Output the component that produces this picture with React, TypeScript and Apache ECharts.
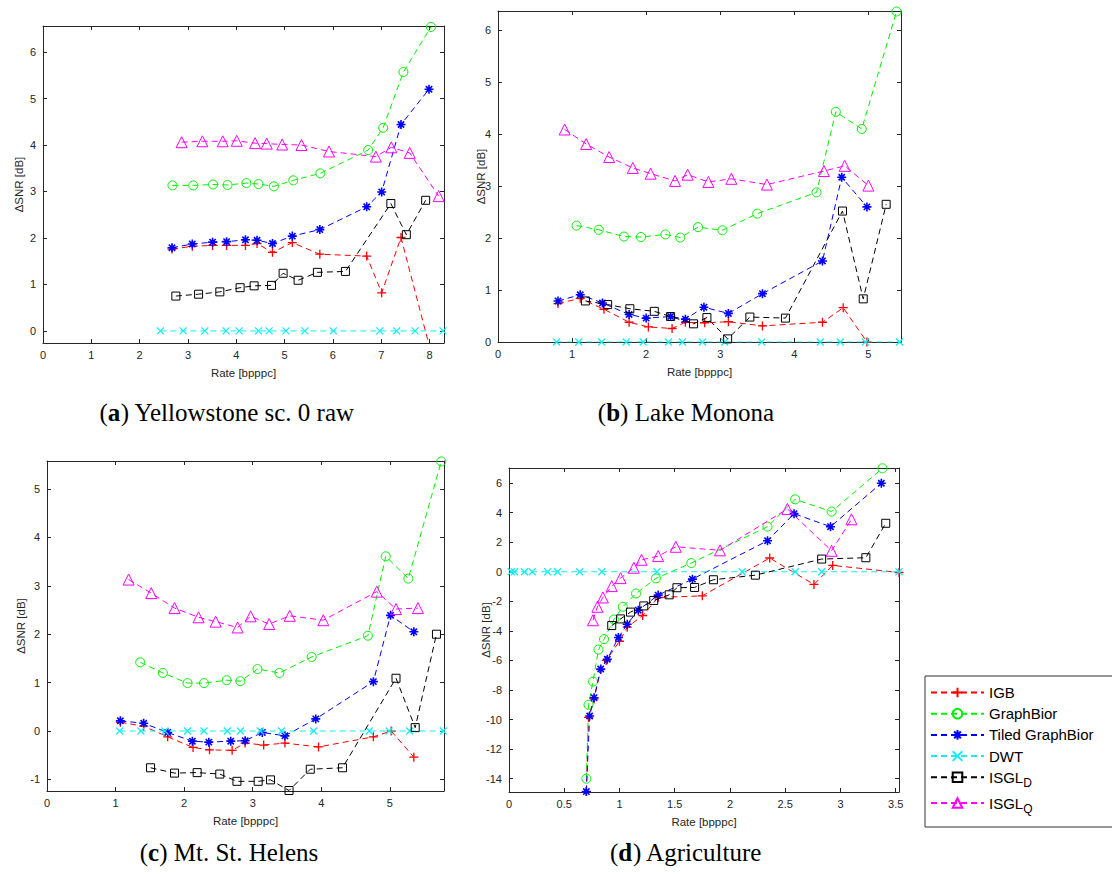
import React, { useEffect, useRef } from 'react';
import * as echarts from 'echarts';

// ---------- tick labels ----------
const aXTicks = [0, 1, 2, 3, 4, 5, 6, 7, 8];
const aYTicks = [0, 1, 2, 3, 4, 5, 6];
const bXTicks = [0, 1, 2, 3, 4, 5];
const bYTicks = [0, 1, 2, 3, 4, 5, 6];
const cXTicks = [0, 1, 2, 3, 4, 5];
const cYTicks = [-1, 0, 1, 2, 3, 4, 5];
const dXTicks = [0, 0.5, 1, 1.5, 2, 2.5, 3, 3.5];
const dYTicks = [-14, -12, -10, -8, -6, -4, -2, 0, 2, 4, 6];

const seriesNames = ['IGB', 'GraphBior', 'Tiled GraphBior', 'DWT', 'ISGL_D', 'ISGL_Q'];
const captionLetters = ['a', 'b', 'c', 'd'];
const captionTexts = ['Yellowstone sc. 0 raw', 'Lake Monona', 'Mt. St. Helens', 'Agriculture'];
const xAxisTitle = 'Rate [bpppc]';
const yAxisTitle = 'ΔSNR [dB]';

// ---------- (a) Yellowstone sc. 0 raw ----------
const aIgbX = [2.67, 3.09, 3.51, 3.80, 4.19, 4.43, 4.75, 5.16, 5.73, 6.70, 7.01, 7.41, 7.99];
const aIgbY = [1.76, 1.82, 1.84, 1.84, 1.84, 1.88, 1.69, 1.90, 1.65, 1.61, 0.82, 2.01, -0.30];
const aGbX = [2.68, 3.11, 3.52, 3.82, 4.21, 4.46, 4.78, 5.18, 5.74, 6.73, 7.04, 7.46, 8.03];
const aGbY = [3.13, 3.13, 3.15, 3.14, 3.18, 3.16, 3.11, 3.24, 3.39, 3.89, 4.37, 5.57, 6.54];
const aTgX = [2.67, 3.09, 3.51, 3.80, 4.19, 4.43, 4.75, 5.16, 5.73, 6.70, 7.01, 7.41, 7.99];
const aTgY = [1.79, 1.87, 1.91, 1.92, 1.96, 1.95, 1.88, 2.04, 2.18, 2.67, 2.99, 4.44, 5.20];
const aDwtX = [2.43, 2.90, 3.35, 3.79, 4.06, 4.46, 4.68, 5.03, 5.42, 6.01, 6.97, 7.32, 7.70, 8.28];
const aDwtY = [0, 0, 0, 0, 0, 0, 0, 0, 0, 0, 0, 0, 0, 0];
const aIdX = [2.75, 3.22, 3.66, 4.08, 4.37, 4.73, 4.97, 5.28, 5.68, 6.26, 7.20, 7.52, 7.92];
const aIdY = [0.75, 0.79, 0.84, 0.93, 0.97, 0.98, 1.24, 1.09, 1.26, 1.28, 2.74, 2.07, 2.81];
const aIqX = [2.87, 3.30, 3.72, 4.01, 4.39, 4.63, 4.95, 5.35, 5.92, 6.89, 7.21, 7.59, 8.19];
const aIqY = [4.06, 4.08, 4.08, 4.09, 4.04, 4.03, 4.01, 4.00, 3.86, 3.75, 3.95, 3.83, 2.90];

// ---------- (b) Lake Monona ----------
const bIgbX = [0.81, 1.11, 1.43, 1.77, 2.03, 2.35, 2.53, 2.79, 3.11, 3.57, 4.38, 4.66, 4.98];
const bIgbY = [0.74, 0.84, 0.63, 0.38, 0.29, 0.26, 0.38, 0.37, 0.39, 0.31, 0.38, 0.66, 0.00];
const bGbX = [1.06, 1.36, 1.70, 1.93, 2.26, 2.46, 2.70, 3.03, 3.50, 4.30, 4.56, 4.91, 5.38];
const bGbY = [2.24, 2.16, 2.03, 2.02, 2.07, 2.01, 2.21, 2.15, 2.47, 2.88, 4.43, 4.10, 6.36];
const bTgX = [0.81, 1.11, 1.41, 1.77, 2.00, 2.33, 2.53, 2.78, 3.11, 3.57, 4.38, 4.64, 4.98];
const bTgY = [0.79, 0.91, 0.75, 0.53, 0.46, 0.49, 0.44, 0.67, 0.55, 0.93, 1.56, 3.17, 2.60];
const bDwtX = [0.79, 1.09, 1.40, 1.73, 1.96, 2.30, 2.49, 2.76, 3.06, 3.56, 4.35, 4.62, 4.96, 5.42];
const bDwtY = [0, 0, 0, 0, 0, 0, 0, 0, 0, 0, 0, 0, 0, 0];
const bIdX = [1.18, 1.48, 1.78, 2.11, 2.33, 2.64, 2.82, 3.10, 3.40, 3.88, 4.65, 4.93, 5.24];
const bIdY = [0.79, 0.72, 0.64, 0.59, 0.49, 0.35, 0.47, 0.06, 0.48, 0.46, 2.52, 0.83, 2.65];
const bIqX = [0.90, 1.19, 1.50, 1.82, 2.06, 2.39, 2.56, 2.84, 3.15, 3.63, 4.40, 4.68, 5.00];
const bIqY = [4.09, 3.81, 3.56, 3.35, 3.24, 3.10, 3.22, 3.08, 3.14, 3.03, 3.29, 3.39, 3.01];

// ---------- (c) Mt. St. Helens ----------
const cIgbX = [1.07, 1.41, 1.76, 2.13, 2.37, 2.70, 2.89, 3.16, 3.47, 3.96, 4.76, 5.02, 5.35];
const cIgbY = [0.18, 0.10, -0.12, -0.34, -0.39, -0.40, -0.25, -0.29, -0.25, -0.33, -0.12, 0.00, -0.54];
const cGbX = [1.36, 1.69, 2.05, 2.29, 2.62, 2.82, 3.07, 3.39, 3.86, 4.68, 4.94, 5.27, 5.75];
const cGbY = [1.42, 1.20, 0.99, 0.99, 1.05, 1.03, 1.28, 1.20, 1.53, 1.97, 3.61, 3.15, 5.57];
const cTgX = [1.07, 1.41, 1.76, 2.12, 2.36, 2.68, 2.89, 3.14, 3.47, 3.92, 4.76, 5.01, 5.35];
const cTgY = [0.21, 0.16, -0.03, -0.21, -0.23, -0.21, -0.20, -0.03, -0.10, 0.25, 1.02, 2.39, 2.05];
const cDwtX = [1.06, 1.37, 1.72, 2.05, 2.29, 2.63, 2.82, 3.11, 3.42, 3.89, 4.70, 4.99, 5.29, 5.78];
const cDwtY = [0, 0, 0, 0, 0, 0, 0, 0, 0, 0, 0, 0, 0, 0];
const cIdX = [1.51, 1.86, 2.19, 2.52, 2.77, 3.08, 3.26, 3.53, 3.84, 4.31, 5.09, 5.37, 5.68];
const cIdY = [-0.76, -0.87, -0.86, -0.89, -1.04, -1.04, -1.01, -1.23, -0.79, -0.76, 1.09, 0.07, 2.00];
const cIqX = [1.19, 1.52, 1.86, 2.21, 2.46, 2.78, 2.97, 3.24, 3.54, 4.03, 4.81, 5.09, 5.41];
const cIqY = [3.13, 2.85, 2.54, 2.35, 2.26, 2.14, 2.37, 2.21, 2.38, 2.29, 2.88, 2.52, 2.54];

// ---------- (d) Agriculture ----------
const dIgbX = [0.70, 0.72, 0.77, 0.83, 0.88, 1.00, 1.07, 1.21, 1.35, 1.75, 2.36, 2.76, 2.93, 3.53];
const dIgbY = [-14.87, -9.85, -8.60, -6.62, -6.00, -4.70, -3.75, -2.96, -1.74, -1.63, 0.93, -0.86, 0.43, -0.05];
const dGbX = [0.70, 0.72, 0.76, 0.81, 0.86, 0.95, 1.03, 1.15, 1.33, 1.65, 2.34, 2.59, 2.92, 3.38];
const dGbY = [-14.0, -9.0, -7.43, -5.27, -4.56, -3.23, -2.37, -1.47, -0.45, 0.59, 3.05, 4.90, 4.07, 7.0];
const dTgX = [0.70, 0.73, 0.77, 0.83, 0.89, 0.99, 1.07, 1.17, 1.35, 1.66, 2.34, 2.58, 2.91, 3.37];
const dTgY = [-14.87, -9.76, -8.52, -6.58, -5.92, -4.45, -3.55, -2.60, -1.58, -0.50, 2.10, 3.93, 3.05, 5.99];
const dDwtX = [0.02, 0.05, 0.14, 0.21, 0.35, 0.44, 0.64, 0.84, 1.34, 2.11, 2.59, 2.83, 3.53];
const dDwtY = [0, 0, 0, 0, 0, 0, 0, 0, 0, 0, 0, 0, 0];
const dIdX = [0.93, 1.01, 1.10, 1.22, 1.31, 1.45, 1.52, 1.68, 1.85, 2.23, 2.83, 3.23, 3.41];
const dIdY = [-3.64, -3.19, -2.73, -2.31, -1.94, -1.56, -1.08, -1.06, -0.54, -0.23, 0.86, 0.95, 3.28];
const dIqX = [0.76, 0.80, 0.85, 0.93, 1.01, 1.13, 1.20, 1.35, 1.51, 1.91, 2.52, 2.92, 3.10];
const dIqY = [-3.28, -2.37, -1.74, -0.97, -0.43, 0.27, 0.81, 1.06, 1.69, 1.45, 4.25, 1.42, 3.55];

const panelData = [
  { xTicks: aXTicks, yTicks: aYTicks, sets: [[aIgbX, aIgbY], [aGbX, aGbY], [aTgX, aTgY], [aDwtX, aDwtY], [aIdX, aIdY], [aIqX, aIqY]] },
  { xTicks: bXTicks, yTicks: bYTicks, sets: [[bIgbX, bIgbY], [bGbX, bGbY], [bTgX, bTgY], [bDwtX, bDwtY], [bIdX, bIdY], [bIqX, bIqY]] },
  { xTicks: cXTicks, yTicks: cYTicks, sets: [[cIgbX, cIgbY], [cGbX, cGbY], [cTgX, cTgY], [cDwtX, cDwtY], [cIdX, cIdY], [cIqX, cIqY]] },
  { xTicks: dXTicks, yTicks: dYTicks, sets: [[dIgbX, dIgbY], [dGbX, dGbY], [dTgX, dTgY], [dDwtX, dDwtY], [dIdX, dIdY], [dIqX, dIqY]] },
];

// ---------- layout / style ----------
const layouts = [
  { left: 43, top: 26, width: 401, height: 317, xMin: 0, xMax: 8.3, yMin: -0.26, yMax: 6.56, yNameGap: 18, capX: 227, capY: 412 },
  { left: 498, top: 11, width: 403, height: 331, xMin: 0, xMax: 5.44, yMin: 0, yMax: 6.37, yNameGap: 11, capX: 686, capY: 412 },
  { left: 47, top: 461, width: 397, height: 330, xMin: 0, xMax: 5.79, yMin: -1.24, yMax: 5.58, yNameGap: 20, capX: 229, capY: 852 },
  { left: 509, top: 468, width: 390, height: 324, xMin: 0, xMax: 3.53, yMin: -14.9, yMax: 7.02, yNameGap: 17, capX: 686, capY: 852 },
];

const SANS = '"Liberation Sans", Arial, Helvetica, sans-serif';
const SERIF = '"Liberation Serif", "Times New Roman", serif';
const AXC = '#262626';
const LBL = '#262626';

const PLUS = 'path://M5,0 L5,10 M0,5 L10,5';
const CROSS = 'path://M0,0 L10,10 M10,0 L0,10';
const STAR = 'path://M5,0 L5,10 M0,5 L10,5 M1.5,1.5 L8.5,8.5 M8.5,1.5 L1.5,8.5';

const styles = [
  { color: '#ff0000', symbol: PLUS, size: 9, bw: 1.3 },
  { color: '#00f000', symbol: 'circle', size: 9, bw: 1 },
  { color: '#0000ff', symbol: STAR, size: 9, bw: 1.6 },
  { color: '#12eef2', symbol: CROSS, size: 7, bw: 1.2 },
  { color: '#000000', symbol: 'rect', size: 8, bw: 1 },
  { color: '#ff00ff', symbol: 'triangle', size: 11, bw: 1 },
];

function buildOption() {
  const grid: any[] = [];
  const xAxis: any[] = [];
  const yAxis: any[] = [];
  const series: any[] = [];
  const graphic: any[] = [];
  layouts.forEach((L, i) => {
    const P = panelData[i];
    grid.push({ left: L.left, top: L.top, width: L.width, height: L.height, containLabel: false });
    const line = { show: true, onZero: false, lineStyle: { color: AXC, width: 1 } };
    xAxis.push({
      gridIndex: i, type: 'value', min: L.xMin, max: L.xMax, position: 'bottom',
      axisLine: line,
      axisTick: { show: true, inside: true, length: 4, customValues: P.xTicks, lineStyle: { color: AXC } },
      axisLabel: { show: true, customValues: P.xTicks, margin: 6, color: LBL, fontSize: 11, fontFamily: SANS },
      splitLine: { show: false },
      name: xAxisTitle, nameLocation: 'middle', nameGap: 24, nameMoveOverlap: false,
      nameTextStyle: { color: LBL, fontSize: 11.5, fontFamily: SANS },
    });
    xAxis.push({
      gridIndex: i, type: 'value', min: L.xMin, max: L.xMax, position: 'top',
      axisLine: line,
      axisTick: { show: true, inside: true, length: 4, customValues: P.xTicks, lineStyle: { color: AXC } },
      axisLabel: { show: false }, splitLine: { show: false },
    });
    yAxis.push({
      gridIndex: i, type: 'value', min: L.yMin, max: L.yMax, position: 'left',
      axisLine: line,
      axisTick: { show: true, inside: true, length: 4, customValues: P.yTicks, lineStyle: { color: AXC } },
      axisLabel: { show: true, customValues: P.yTicks, margin: 7, color: LBL, fontSize: 11, fontFamily: SANS },
      splitLine: { show: false },
      name: yAxisTitle, nameLocation: 'middle', nameGap: L.yNameGap, nameMoveOverlap: false,
      nameTextStyle: { color: LBL, fontSize: 11.5, fontFamily: SANS },
    });
    yAxis.push({
      gridIndex: i, type: 'value', min: L.yMin, max: L.yMax, position: 'right',
      axisLine: line,
      axisTick: { show: true, inside: true, length: 4, customValues: P.yTicks, lineStyle: { color: AXC } },
      axisLabel: { show: false }, splitLine: { show: false },
    });
    P.sets.forEach((s, k) => {
      const st = styles[k];
      const [xs, ys] = s;
      series.push({
        type: 'line',
        name: seriesNames[k],
        xAxisIndex: i * 2,
        yAxisIndex: i * 2,
        data: xs.map((x: number, j: number) => [x, ys[j]]),
        symbol: st.symbol,
        symbolSize: st.size,
        showAllSymbol: true,
        clip: true,
        lineStyle: { color: st.color, width: 1, type: [6, 4] },
        itemStyle: { color: 'transparent', borderColor: st.color, borderWidth: st.bw },
        emphasis: { disabled: true },
        z: 2 + k * 0.01,
      });
    });
    graphic.push({
      type: 'text',
      x: L.capX,
      y: L.capY,
      style: {
        text: '({b|' + captionLetters[i] + '}) ' + captionTexts[i],
        fill: '#000',
        fontSize: 25,
        fontFamily: SERIF,
        align: 'center',
        verticalAlign: 'middle',
        rich: { b: { fontWeight: 'bold', fontSize: 25, fontFamily: SERIF, fill: '#000' } },
      },
    });
  });

  return {
    animation: false,
    backgroundColor: '#ffffff',
    grid, xAxis, yAxis, series, graphic,
    legend: {
      orient: 'vertical',
      left: 925,
      top: 676,
      data: seriesNames,
      selectedMode: false,
      itemWidth: 53,
      itemHeight: 12,
      itemGap: 6.2,
      padding: [9, 20, 12, 5],
      borderColor: '#333',
      borderWidth: 1,
      backgroundColor: '#fff',
      textStyle: {
        fontSize: 15, color: '#000', fontFamily: SANS,
        rich: {
          m: { fontSize: 15, color: '#000', fontFamily: SANS, lineHeight: 25 },
          s: { fontSize: 12, color: '#000', fontFamily: SANS, padding: [12, 0, 0, 0] },
        },
      },
      formatter: (n: string) => {
        const idx = n.indexOf('_');
        if (idx >= 0) return '{m|' + n.slice(0, idx) + '}{s|' + n.slice(idx + 1) + '}';
        return n;
      },
    },
  };
}

export default function App() {
  const ref = useRef<HTMLDivElement>(null);
  useEffect(() => {
    if (!ref.current) return;
    const chart = echarts.init(ref.current, undefined, { renderer: 'svg' });
    chart.setOption(buildOption() as any);
    return () => chart.dispose();
  }, []);
  return (
    <div
      ref={ref}
      style={{ position: 'absolute', left: 0, top: 0, width: 1112, height: 874, background: '#fff' }}
    />
  );
}
